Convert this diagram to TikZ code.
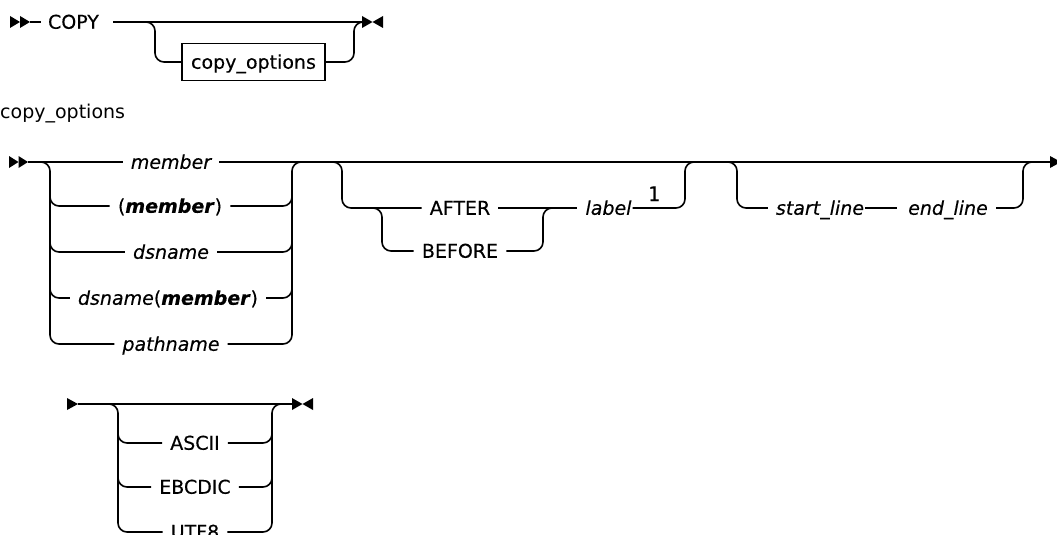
\documentclass[tikz,border=0pt]{standalone}
\usepackage{fontspec}
\setmainfont{DejaVu Sans}[FakeBold=0.35]
\newfontfamily\headfont{DejaVu Sans}
\newfontfamily\supfont{DejaVu Sans Mono}[FakeBold=0.6]
\begin{document}
\begin{tikzpicture}[x=1pt,y=-1pt,
  rr/.style={line width=1.6pt, rounded corners=9pt},
  ln/.style={line width=1.6pt},
  kw/.style={font=\fontsize{19}{23}\selectfont, inner xsep=8pt, inner ysep=0pt, text height=13.5pt, text depth=0pt, anchor=center},
  var/.style={kw, font=\fontsize{19}{23}\selectfont\itshape},
  boxed/.style={kw, draw, line width=1.4pt, minimum width=143pt, minimum height=37pt, inner ysep=0pt},
  tip/.style={fill=black}
]
\useasboundingbox (0,0) rectangle (1057,535);

% ---------- Row 1 ----------
\fill[tip] (10,16) -- (20,22) -- (10,28) -- cycle;
\fill[tip] (20,16) -- (30,22) -- (20,28) -- cycle;
\coordinate (s1) at (30,22);
\node[kw] (copy) at (73.5,22) {COPY};
\node[boxed] (copyopts) at (253.5,62) {copy\_options};
\coordinate (e1) at (362,22);
\draw[ln] (s1) -- ([xshift=1pt]copy.west);
\draw[ln] ([xshift=6pt]copy.east) -- (e1);
\draw[rr] (147,22) -| (155,62) -- (copyopts.west);
\draw[rr] (copyopts.east) -| (354,22) -- (e1);
\fill[tip] (362,16) -- (372.5,22) -- (362,28) -- cycle;
\fill[tip] (383,16) -- (372.5,22) -- (383,28) -- cycle;

% heading
\node[font=\fontsize{19}{23}\selectfont\headfont, anchor=base west, inner sep=0pt] (head) at (0,118) {copy\_options};

% ---------- Row 2 ----------
\fill[tip] (9,156) -- (18.5,162) -- (9,168) -- cycle;
\fill[tip] (18.5,156) -- (28,162) -- (18.5,168) -- cycle;
\coordinate (s2) at (28,162);
\coordinate (e2) at (1051,162);

\node[var] (m1) at (171,162) {member};
\node[kw]  (m2) at (170,206) {(\textbf{\itshape member})};
\node[var] (m3) at (171,252) {dsname};
\node[kw]  (m4) at (168,298) {\itshape dsname\upshape(\textbf{\itshape member})};
\node[var] (m5) at (171,344) {pathname};

\draw[ln] (s2) -- (m1.west);
\draw[ln] (m1.east) -- (e2);
\draw[rr] (40,162) -| (50,344) -- (m5.west);
\draw[rr] (50,190) |- (m2.west);
\draw[rr] (50,236) |- (m3.west);
\draw[rr] (50,282) |- (m4.west);
\draw[rr] (m5.east) -| (292,162) -- (302,162);
\draw[rr] (m2.east) -| (292,190);
\draw[rr] (m3.east) -| (292,236);
\draw[rr] (m4.east) -| (292,282);

% AFTER / BEFORE label
\node[kw] (after) at (460,208) {AFTER};
\node[kw] (before) at (460,251) {BEFORE};
\node[var] (label) at (608.5,208) {label};
\node[font=\fontsize{20}{24}\selectfont\supfont, anchor=base, inner sep=0pt] (sup) at (654,201) {1};
\draw[rr] (332,162) -| (342,208) -- (after.west);
\draw[rr] (372,208) -| (382,251) -- (before.west);
\draw[rr] (before.east) -| (543,208) -- (553,208);
\draw[ln] (after.east) -- (label.west);
\draw[rr] ([xshift=-7pt]label.east) -| (685,162) -- (695,162);

% start_line end_line
\node[var] (sl) at (820,208) {start\_line};
\node[var] (el) at (948,208) {end\_line};
\draw[rr] (727,162) -| (737,208) -- (sl.west);
\draw[ln] ([xshift=-7pt]sl.east) -- ([xshift=-3pt]el.west);
\draw[rr] (el.east) -| (1023,162) -- (1033,162);
\fill[tip] (1050,156) -- (1061,162) -- (1050,168) -- cycle;

% ---------- Row 3 ----------
\fill[tip] (67,398) -- (78,404) -- (67,410) -- cycle;
\coordinate (s3) at (78,404);
\coordinate (e3) at (292,404);
\node[kw] (ascii) at (195,443) {ASCII};
\node[kw] (ebcdic) at (195,487) {EBCDIC};
\node[kw] (utf) at (195,532) {UTF8};
\draw[ln] (s3) -- (e3);
\draw[rr] (108,404) -| (118,532) -- (utf.west);
\draw[rr] (118,430) |- (ascii.west);
\draw[rr] (118,474) |- (ebcdic.west);
\draw[rr] (utf.east) -| (272,404) -- (282,404);
\draw[rr] (ascii.east) -| (272,430);
\draw[rr] (ebcdic.east) -| (272,474);
\fill[tip] (292,398) -- (302.5,404) -- (292,410) -- cycle;
\fill[tip] (313,398) -- (302.5,404) -- (313,410) -- cycle;
\end{tikzpicture}
\end{document}
